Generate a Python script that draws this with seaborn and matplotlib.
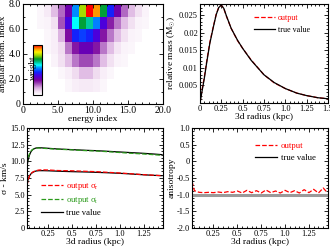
import numpy as np
import pandas as pd
import matplotlib
matplotlib.use("Agg")
import matplotlib.pyplot as plt
from matplotlib.colors import LinearSegmentedColormap
from matplotlib.lines import Line2D
from matplotlib.ticker import MultipleLocator, FixedLocator
import seaborn as sns

plt.rcParams['font.family'] = ['Liberation Serif', 'DejaVu Serif']
plt.rcParams['mathtext.fontset'] = 'custom'
plt.rcParams['mathtext.rm'] = 'Liberation Serif'
plt.rcParams['mathtext.it'] = 'Liberation Serif:italic'
plt.rcParams['axes.unicode_minus'] = False

# ---------------- data ----------------
# weight grid: rows = angular momentum index 0..7 (bottom to top), cols = energy index 0..19
w_row0 = [0]*20
w_row1 = [0, 0, 0, 0, 0, 0, 0.02, 0.04, 0.05, 0.05, 0.04, 0.02, 0, 0, 0, 0, 0, 0, 0, 0]
w_row2 = [0, 0, 0, 0, 0, 0.02, 0.04, 0.08, 0.12, 0.12, 0.08, 0.04, 0.02, 0, 0, 0, 0, 0, 0, 0]
w_row3 = [0, 0, 0, 0, 0.03, 0.07, 0.12, 0.19, 0.23, 0.23, 0.19, 0.12, 0.07, 0.03, 0.02, 0, 0, 0, 0, 0]
w_row4 = [0, 0, 0, 0.02, 0.04, 0.08, 0.19, 0.28, 0.33, 0.33, 0.28, 0.19, 0.12, 0.06, 0.03, 0.02, 0, 0, 0, 0]
w_row5 = [0, 0, 0, 0.02, 0.04, 0.13, 0.29, 0.45, 0.48, 0.45, 0.38, 0.28, 0.19, 0.12, 0.07, 0.03, 0.02, 0, 0, 0]
w_row6 = [0, 0, 0.02, 0.03, 0.07, 0.22, 0.39, 0.6, 0.71, 0.65, 0.53, 0.38, 0.27, 0.19, 0.12, 0.07, 0.03, 0.02, 0, 0]
w_row7 = [0, 0, 0.02, 0.05, 0.12, 0.2, 0.32, 0.54, 0.8, 1.0, 0.92, 0.71, 0.45, 0.32, 0.2, 0.12, 0.07, 0.03, 0, 0]

# relative mass profile
r_mass = [0.0, 0.02, 0.05, 0.08, 0.115, 0.155, 0.19, 0.22, 0.25, 0.28, 0.31, 0.365, 0.44,
          0.5, 0.6, 0.75, 0.87, 1.0, 1.135, 1.25, 1.38, 1.5]
m_true = [0.0, 0.0028, 0.0069, 0.0117, 0.0169, 0.0214, 0.0251, 0.0271, 0.0278, 0.0268, 0.0247,
          0.0212, 0.0178, 0.0155, 0.0121, 0.0080, 0.0058, 0.0041, 0.0028, 0.0021, 0.0015, 0.0012]
m_out = [0.0, 0.0032, 0.0073, 0.0121, 0.0172, 0.0216, 0.0252, 0.0272, 0.0278, 0.0267, 0.0246,
         0.0212, 0.0177, 0.0155, 0.0122, 0.0080, 0.0057, 0.0041, 0.0028, 0.0021, 0.0015, 0.0012]

# velocity dispersion
r_sig = [0.025, 0.035, 0.05, 0.065, 0.08, 0.1, 0.12, 0.15, 0.2, 0.25, 0.35, 0.5, 0.65, 0.75,
         0.9, 1.0, 1.1, 1.25, 1.35, 1.44]
sig_t_true = [9.2, 10.1, 10.9, 11.4, 11.7, 11.9, 12.0, 12.05, 12.0, 11.95, 11.85, 11.75, 11.65,
              11.6, 11.48, 11.4, 11.32, 11.2, 11.1, 11.0]
sig_t_out = [9.6, 10.4, 11.1, 11.5, 11.75, 11.9, 12.0, 12.0, 11.95, 11.9, 11.82, 11.72, 11.6,
             11.55, 11.42, 11.32, 11.22, 11.1, 11.0, 10.9]
sig_r_true = [6.4, 7.2, 7.8, 8.1, 8.3, 8.45, 8.55, 8.6, 8.6, 8.58, 8.52, 8.45, 8.4, 8.35,
              8.27, 8.2, 8.12, 7.98, 7.9, 7.85]
sig_r_out = [6.3, 7.1, 7.75, 8.1, 8.35, 8.5, 8.6, 8.7, 8.72, 8.7, 8.62, 8.58, 8.5, 8.45,
             8.33, 8.25, 8.15, 8.0, 7.92, 7.85]

# anisotropy
r_ani = [0.025, 0.05, 0.1, 0.15, 0.2, 0.25, 0.3, 0.35, 0.4, 0.45, 0.5, 0.55, 0.6, 0.65, 0.7,
         0.75, 0.8, 0.85, 0.9, 0.95, 1.0, 1.05, 1.1, 1.15, 1.2, 1.25, 1.3, 1.35, 1.4, 1.44]
ani_out = [-0.6, -0.88, -0.93, -0.94, -0.93, -0.94, -0.92, -0.94, -0.91, -0.93, -0.89, -0.95,
           -0.87, -0.94, -0.88, -0.95, -0.86, -0.94, -0.89, -0.95, -0.87, -0.94, -0.88, -0.95,
           -0.85, -0.94, -0.84, -0.95, -0.8, -0.93]
r_ani_true = [0.0, 1.5]
ani_true = [-1.0, -1.0]

# ---------------- figure ----------------
W, H = 330, 248
fig = plt.figure(figsize=(W / 100, H / 100), dpi=100)

def px_axes(x0, y0, x1, y1):
    return fig.add_axes([x0 / W, 1 - y1 / H, (x1 - x0) / W, (y1 - y0) / H])

TICK = 6.0
LAB = 6.8

def style(ax, fs=TICK):
    ax.tick_params(which='both', direction='in', top=True, right=True, labelsize=fs,
                   width=0.6, pad=1.5, colors='black')
    ax.tick_params(which='major', length=3)
    ax.tick_params(which='minor', length=1.5)
    for s in ax.spines.values():
        s.set_linewidth(0.8)
        s.set_color('black')

# ---- top-left heatmap ----
ax1 = px_axes(23, 4, 163, 104)
cax = px_axes(33, 45, 42, 95)
grid = pd.DataFrame([w_row0, w_row1, w_row2, w_row3, w_row4, w_row5, w_row6, w_row7])
cmap = LinearSegmentedColormap.from_list('w', [
    (0.0, (1, 1, 1)), (0.08, (0.94, 0.86, 0.94)), (0.15, (0.83, 0.64, 0.86)),
    (0.22, (0.64, 0.32, 0.72)), (0.3, (0.47, 0.0, 0.62)), (0.38, (0.3, 0.0, 0.86)),
    (0.46, (0.05, 0.15, 1.0)), (0.54, (0.0, 0.55, 1.0)), (0.6, (0.0, 1.0, 1.0)),
    (0.66, (0.0, 0.75, 0.55)), (0.72, (0.0, 0.6, 0.15)), (0.8, (0.65, 0.85, 0.0)),
    (0.86, (1.0, 0.95, 0.0)), (0.92, (1.0, 0.6, 0.0)), (1.0, (1.0, 0.0, 0.0))])
sns.heatmap(grid, ax=ax1, cmap=cmap, vmin=0, vmax=1, cbar=True, cbar_ax=cax, linewidths=0)
ax1.set_xlim(0, 20)
ax1.set_ylim(0, 8)
ax1.xaxis.set_major_locator(FixedLocator([0, 5, 10, 15, 20]))
ax1.set_xticklabels(['0', '5.0', '10.0', '15.0', '20.0'])
ax1.yaxis.set_major_locator(FixedLocator([0, 2, 4, 6, 8]))
ax1.set_yticklabels(['0', '2.0', '4.0', '6.0', '8.0'], rotation=0)
ax1.xaxis.set_minor_locator(MultipleLocator(1))
ax1.yaxis.set_minor_locator(MultipleLocator(1))
for s in ax1.spines.values():
    s.set_visible(True)
style(ax1, 7)
ax1.set_xlabel('energy index', fontsize=LAB, labelpad=0)
ax1.set_ylabel('angular mom. index', fontsize=LAB, labelpad=1)
cb = ax1.collections[0].colorbar
cax.set_yticks([])
cax.tick_params(which='both', length=0)
if cb is not None:
    cb.outline.set_edgecolor('black')
    cb.outline.set_linewidth(0.8)
    cb.set_ticks([])
fig.text(32.5 / W, 1 - 68 / H, 'weight', rotation=90, fontsize=6.5, ha='center', va='center')

# ---- top-right mass ----
ax2 = px_axes(200, 4, 328, 103)
df_m = pd.DataFrame({'r': r_mass, 'true': m_true, 'out': m_out})
sns.lineplot(data=df_m, x='r', y='out', ax=ax2, color='red', linestyle='--', lw=0.9)
sns.lineplot(data=df_m, x='r', y='true', ax=ax2, color='black', lw=0.9)
ax2.set_xlim(0, 1.5)
ax2.set_ylim(0, 0.0281)
ax2.xaxis.set_major_locator(FixedLocator([0, 0.25, 0.5, 0.75, 1.0, 1.25, 1.5]))
ax2.set_xticklabels(['0', '0.25', '0.5', '0.75', '1.0', '1.25', '1.5'])
ax2.yaxis.set_major_locator(FixedLocator([0.005, 0.01, 0.015, 0.02, 0.025]))
ax2.set_yticklabels(['0.005', '0.01', '0.015', '0.02', '0.025'])
ax2.xaxis.set_minor_locator(MultipleLocator(0.05))
ax2.yaxis.set_minor_locator(MultipleLocator(0.001))
style(ax2)
ax2.set_xlabel('3d radius (kpc)', fontsize=LAB, labelpad=0)
ax2.set_ylabel(r'relative mass (M$_{\odot}$)', fontsize=LAB, labelpad=1)
h2 = [Line2D([], [], color='red', ls='--', lw=0.9), Line2D([], [], color='black', lw=0.9)]
ax2.legend(h2, ['output', 'true value'], loc='upper left', bbox_to_anchor=(0.42, 0.9),
           frameon=False, fontsize=5.8, labelcolor=['red', 'black'], handlelength=2.6,
           handletextpad=0.4, labelspacing=0.5, borderpad=0, borderaxespad=0)

# ---- bottom-left sigma ----
ax3 = px_axes(27, 128, 163, 228)
df_s = pd.DataFrame({'r': r_sig, 'tt': sig_t_true, 'to': sig_t_out,
                     'rt': sig_r_true, 'ro': sig_r_out})
sns.lineplot(data=df_s, x='r', y='rt', ax=ax3, color='black', lw=0.9)
sns.lineplot(data=df_s, x='r', y='tt', ax=ax3, color='black', lw=0.9)
sns.lineplot(data=df_s, x='r', y='ro', ax=ax3, color='red', linestyle='--', lw=0.9)
sns.lineplot(data=df_s, x='r', y='to', ax=ax3, color='#2a9a1a', linestyle='--', lw=0.9)
ax3.set_xlim(0.025, 1.45)
ax3.set_ylim(0, 15)
ax3.xaxis.set_major_locator(FixedLocator([0.25, 0.5, 0.75, 1.0, 1.25]))
ax3.set_xticklabels(['0.25', '0.5', '0.75', '1.0', '1.25'])
ax3.yaxis.set_major_locator(FixedLocator([0, 2.5, 5, 7.5, 10, 12.5, 15]))
ax3.set_yticklabels(['0', '2.5', '5.0', '7.5', '10.0', '12.5', '15.0'])
ax3.xaxis.set_minor_locator(MultipleLocator(0.05))
ax3.yaxis.set_minor_locator(MultipleLocator(0.5))
style(ax3)
ax3.set_xlabel('3d radius (kpc)', fontsize=LAB, labelpad=0)
ax3.set_ylabel('σ - km/s', fontsize=LAB, labelpad=1)
h3 = [Line2D([], [], color='red', ls='--', lw=0.9),
      Line2D([], [], color='#2a9a1a', ls='--', lw=0.9),
      Line2D([], [], color='black', lw=0.9)]
ax3.legend(h3, [r'output σ$_\mathrm{r}$', r'output σ$_\mathrm{t}$', 'true value'],
           loc='upper left', bbox_to_anchor=(0.1, 0.47), frameon=False, fontsize=6.2,
           labelcolor=['red', '#2a9a1a', 'black'], handlelength=2.6, handletextpad=0.4,
           labelspacing=0.35, borderpad=0, borderaxespad=0)

# ---- bottom-right anisotropy ----
ax4 = px_axes(192, 128, 328, 228)
df_a = pd.DataFrame({'r': r_ani, 'a': ani_out})
df_at = pd.DataFrame({'r': r_ani_true, 'a': ani_true})
sns.lineplot(data=df_at, x='r', y='a', ax=ax4, color='#9a9a9a', lw=2.2)
sns.lineplot(data=df_a, x='r', y='a', ax=ax4, color='red', linestyle='--', lw=0.9)
ax4.set_xlim(0.025, 1.45)
ax4.set_ylim(-2, 1)
ax4.xaxis.set_major_locator(FixedLocator([0.25, 0.5, 0.75, 1.0, 1.25]))
ax4.set_xticklabels(['0.25', '0.5', '0.75', '1.0', '1.25'])
ax4.yaxis.set_major_locator(FixedLocator([-2, -1.5, -1, -0.5, 0, 0.5, 1]))
ax4.set_yticklabels(['-2.0', '-1.5', '-1.0', '-0.5', '0', '0.5', '1.0'])
ax4.xaxis.set_minor_locator(MultipleLocator(0.05))
ax4.yaxis.set_minor_locator(MultipleLocator(0.1))
style(ax4)
ax4.set_xlabel('3d radius (kpc)', fontsize=LAB, labelpad=0)
ax4.set_ylabel('anisotropy', fontsize=LAB, labelpad=1)
h4 = [Line2D([], [], color='red', ls='--', lw=0.9), Line2D([], [], color='black', lw=0.9)]
ax4.legend(h4, ['output', 'true value'], loc='upper left', bbox_to_anchor=(0.46, 0.86),
           frameon=False, fontsize=6.3, labelcolor=['red', 'black'], handlelength=2.6,
           handletextpad=0.4, labelspacing=0.45, borderpad=0, borderaxespad=0)

fig.savefig('out.png', dpi=100)
